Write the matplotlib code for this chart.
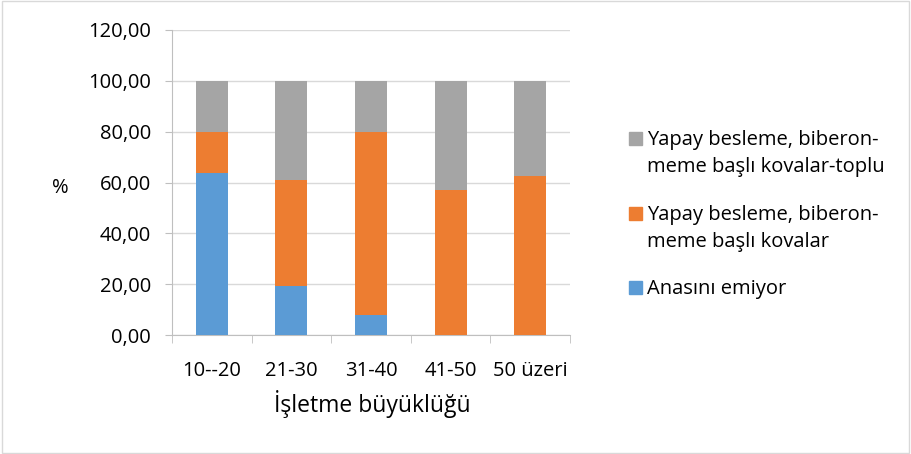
import matplotlib.pyplot as plt
import matplotlib.patches as mpatches
import numpy as np

plt.rcParams['font.family'] = ['Open Sans', 'DejaVu Sans']

# data
categories = ['10--20', '21-30', '31-40', '41-50', '50 üzeri']
anasini_emiyor = [63.6, 19.3, 7.7, 0.0, 0.0]
kovalar = [16.1, 41.6, 72.1, 57.0, 62.5]
kovalar_toplu = [20.3, 39.1, 20.2, 43.0, 37.5]

series_labels = ['Anasını emiyor',
                 'Yapay besleme, biberon-\nmeme başlı kovalar',
                 'Yapay besleme, biberon-\nmeme başlı kovalar-toplu']
colors = ['#5b9bd5', '#ed7d31', '#a5a5a5']

W, H = 911, 454
fig = plt.figure(figsize=(W / 100, H / 100), dpi=100)
ax = fig.add_axes([172 / W, 1 - 335 / H, (570 - 172) / W, (335 - 30) / H])

x = np.arange(len(categories))
w = 0.4
ax.bar(x, anasini_emiyor, w, color=colors[0], zorder=3)
ax.bar(x, kovalar, w, bottom=anasini_emiyor, color=colors[1], zorder=3)
bottom3 = np.array(anasini_emiyor) + np.array(kovalar)
ax.bar(x, kovalar_toplu, w, bottom=bottom3, color=colors[2], zorder=3)

ax.set_xlim(-0.5, len(categories) - 0.5)
ax.set_ylim(0, 120)
ax.set_yticks(np.arange(0, 121, 20))
ax.set_yticklabels([f'{v:.2f}'.replace('.', ',') for v in np.arange(0, 121, 20)], fontsize=14.5)
ax.yaxis.grid(True, color='#d9d9d9', linewidth=1, zorder=0)
ax.tick_params(axis='y', length=5, color='#bfbfbf', pad=10)

ax.set_xticks(x)
ax.set_xticklabels(categories, fontsize=14.5)
ax.tick_params(axis='x', which='major', length=0, pad=19)
ax.set_xticks(np.arange(-0.5, len(categories), 1), minor=True)
ax.tick_params(axis='x', which='minor', length=6, color='#bfbfbf')

for s in ['top', 'right']:
    ax.spines[s].set_visible(False)
for s in ['left', 'bottom']:
    ax.spines[s].set_color('#bfbfbf')

fig.text(60 / W, 1 - 188 / H, '%', fontsize=14.5, ha='center', va='center')
fig.text(372 / W, 1 - 404 / H, 'İşletme büyüklüğü', fontsize=16.5, ha='center', va='center')

# legend drawn by hand: gray on top, blue at the bottom
legend_y = [138, 213, 287]
for lab, col, yc in zip(series_labels[::-1], colors[::-1], legend_y):
    fig.patches.append(mpatches.Rectangle((629 / W, 1 - (yc + 6.5) / H), 13 / W, 13 / H,
                                          transform=fig.transFigure, color=col))
    for i, line in enumerate(lab.split('\n')):
        fig.text(647 / W, 1 - (yc + 2 + 27 * i) / H, line, fontsize=14.5,
                 ha='left', va='center')

# outer border
fig.patches.append(mpatches.Rectangle((0.002, 0.003), 0.996, 0.994, transform=fig.transFigure,
                                      fill=False, edgecolor='#d9d9d9', linewidth=1))

fig.savefig('out.png', dpi=100)
